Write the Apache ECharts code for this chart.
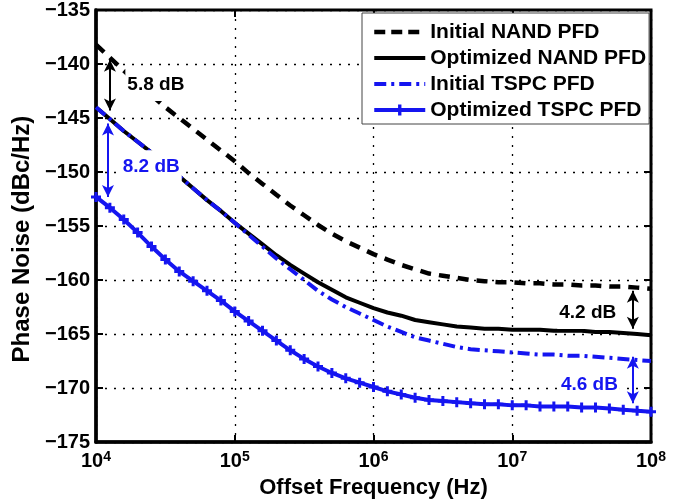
<!DOCTYPE html>
<html>
<head>
<meta charset="utf-8">
<script src="https://cdn.jsdelivr.net/npm/echarts@6/dist/echarts.min.js"></script>
<style>
  html, body {margin:0;padding:0;background:#fff;}
  #chart {width:690px;height:504px;}
</style>
</head>
<body>
<div id="chart"></div>
<script>
// offset frequencies, 10 points per decade (Hz)
var freqs = [
  1e4, 1.259e4, 1.585e4, 1.995e4, 2.512e4, 3.162e4, 3.981e4, 5.012e4, 6.310e4, 7.943e4,
  1e5, 1.259e5, 1.585e5, 1.995e5, 2.512e5, 3.162e5, 3.981e5, 5.012e5, 6.310e5, 7.943e5,
  1e6, 1.259e6, 1.585e6, 1.995e6, 2.512e6, 3.162e6, 3.981e6, 5.012e6, 6.310e6, 7.943e6,
  1e7, 1.259e7, 1.585e7, 1.995e7, 2.512e7, 3.162e7, 3.981e7, 5.012e7, 6.310e7, 7.943e7,
  1e8
];
var initNand = [
  -138.2, -139.4, -140.6, -141.8, -142.9, -144.0, -145.0, -146.0, -147.0, -148.0,
  -149.0, -150.1, -151.1, -152.1, -153.1, -154.0, -154.9, -155.7, -156.4, -157.0,
  -157.6, -158.1, -158.6, -159.0, -159.4, -159.6, -159.8, -160.0, -160.1, -160.2,
  -160.2, -160.3, -160.3, -160.4, -160.4, -160.5, -160.5, -160.6, -160.6, -160.7,
  -160.8
];
var optNand = [
  -144.0, -145.1, -146.2, -147.2, -148.2, -149.3, -150.4, -151.5, -152.6, -153.6,
  -154.7, -155.7, -156.7, -157.7, -158.6, -159.4, -160.2, -160.9, -161.6, -162.1,
  -162.6, -163.0, -163.3, -163.7, -163.9, -164.1, -164.3, -164.4, -164.5, -164.5,
  -164.6, -164.6, -164.6, -164.7, -164.7, -164.7, -164.8, -164.8, -164.9, -165.0,
  -165.1
];
var initTspc = [
  -144.0, -145.1, -146.2, -147.2, -148.2, -149.3, -150.4, -151.5, -152.6, -153.6,
  -154.7, -155.8, -156.9, -158.0, -159.0, -160.0, -161.0, -161.8, -162.5, -163.1,
  -163.7, -164.3, -164.8, -165.3, -165.6, -165.9, -166.2, -166.4, -166.5, -166.6,
  -166.7, -166.8, -166.9, -166.9, -167.0, -167.0, -167.1, -167.2, -167.3, -167.4,
  -167.5
];
var optTspc = [
  -152.3, -153.3, -154.4, -155.6, -156.9, -158.1, -159.2, -160.1, -161.0, -161.9,
  -162.9, -163.8, -164.7, -165.6, -166.5, -167.3, -168.0, -168.6, -169.1, -169.5,
  -169.9, -170.3, -170.6, -170.9, -171.1, -171.2, -171.3, -171.4, -171.5, -171.5,
  -171.6, -171.6, -171.7, -171.7, -171.7, -171.8, -171.8, -171.9, -172.0, -172.1,
  -172.2
];
var seriesNames = ['Initial NAND PFD', 'Optimized NAND PFD', 'Initial TSPC PFD', 'Optimized TSPC PFD'];

// dB annotations: [freq, value] for text, arrows as [freq, top, bottom]
var noteText = ['5.8 dB', '8.2 dB', '4.2 dB', '4.6 dB'];
var notePos = [[2.7e4, -141.9], [2.5e4, -149.5], [3.5e7, -163.0], [3.6e7, -169.7]];
var arrowFreq = [1.26e4, 1.22e4, 7.4e7, 7.4e7];
var arrowTop = [-139.6, -145.5, -161.0, -167.1];
var arrowBottom = [-144.3, -152.3, -164.5, -171.4];
var noteColor = ['#000', '#1515f0', '#000', '#1515f0'];

var BLUE = '#1515f0';
var FONT = 'Liberation Sans, Arial, sans-serif';
var PLUS = 'path://M3.5,0H6.5V3.5H10V6.5H6.5V10H3.5V6.5H0V3.5H3.5Z';

function pairs(ys){
  return freqs.map(function(f,i){ return [f, ys[i]]; });
}

var myChart = echarts.init(document.getElementById('chart'));

var markPts = noteText.map(function(t,i){
  return {
    name: t,
    coord: notePos[i],
    label: {color: noteColor[i]}
  };
});
var markLns = arrowFreq.map(function(f,i){
  return [
    {coord: [f, arrowTop[i]], lineStyle: {color: noteColor[i]}},
    {coord: [f, arrowBottom[i]], lineStyle: {color: noteColor[i]}}
  ];
});

// legend: plain line icons, markers only on the last one
var legendData = [
  {name: seriesNames[0], itemStyle: {opacity: 0}, lineStyle: {width: 4.5, type: [11, 6]}},
  {name: seriesNames[1], itemStyle: {opacity: 0}, lineStyle: {width: 4}},
  {name: seriesNames[2], itemStyle: {opacity: 0}, lineStyle: {width: 4, type: [12, 5, 3, 5]}},
  {name: seriesNames[3], lineStyle: {width: 4}}
];

var option = {
  animation: false,
  backgroundColor: '#fff',
  textStyle: {fontFamily: FONT},
  grid: {
    left: 96, right: 39, top: 8, bottom: 60,
    show: true, borderColor: '#000', borderWidth: 3, backgroundColor: 'transparent'
  },
  legend: {
    data: legendData,
    orient: 'vertical',
    left: 362, top: 13,
    padding: [8, 3, 3, 10],
    itemWidth: 51, itemHeight: 14, itemGap: 4,
    backgroundColor: '#fff',
    borderColor: '#444', borderWidth: 1,
    textStyle: {fontFamily: FONT, fontSize: 21, fontWeight: 'bold', color: '#000', lineHeight: 22}
  },
  xAxis: [{
    type: 'log', logBase: 10, min: 1e4, max: 1e8,
    name: 'Offset Frequency (Hz)',
    nameLocation: 'middle', nameGap: 34,
    nameTextStyle: {fontFamily: FONT, fontSize: 22, fontWeight: 'bold', color: '#000'},
    axisLine: {show: true, onZero: false, lineStyle: {color: '#000', width: 3.5}},
    axisTick: {show: true, inside: true, length: 7, lineStyle: {color: '#000', width: 2}},
    axisLabel: {
      margin: 8, color: '#000',
      formatter: function(v){ return '{b|10}{s|' + Math.round(Math.log10(v)) + '}'; },
      rich: {
        b: {fontFamily: FONT, fontSize: 20, fontWeight: 'bold', color: '#000', lineHeight: 22},
        s: {fontFamily: FONT, fontSize: 14, fontWeight: 'bold', color: '#000', verticalAlign: 'top', lineHeight: 22, padding: [0,0,8,0]}
      }
    },
    splitLine: {show: true, lineStyle: {color: '#000', width: 1.3, type: [2, 7]}}
  }, {
    type: 'log', logBase: 10, min: 1e4, max: 1e8, position: 'top',
    axisLine: {show: false},
    axisTick: {show: true, inside: true, length: 7, lineStyle: {color: '#000', width: 2}},
    axisLabel: {show: false},
    splitLine: {show: false}
  }],
  yAxis: [{
    type: 'value', min: -175, max: -135, interval: 5,
    name: 'Phase Noise (dBc/Hz)',
    nameLocation: 'middle', nameGap: 60, nameRotate: 90,
    nameTextStyle: {fontFamily: FONT, fontSize: 24, fontWeight: 'bold', color: '#000', padding: [0, 26, 0, 0]},
    axisLine: {show: true, onZero: false, lineStyle: {color: '#000', width: 3.5}},
    axisTick: {show: true, inside: true, length: 7, lineStyle: {color: '#000', width: 2}},
    axisLabel: {
      margin: 6, color: '#000', fontFamily: FONT, fontSize: 20, fontWeight: 'bold',
      formatter: function(v){ return String(v).replace('-', '\u2212'); }
    },
    splitLine: {show: true, lineStyle: {color: '#000', width: 1.3, type: [2, 7]}}
  }, {
    type: 'value', min: -175, max: -135, interval: 5, position: 'right',
    axisLine: {show: false},
    axisTick: {show: true, inside: true, length: 7, lineStyle: {color: '#000', width: 2}},
    axisLabel: {show: false},
    splitLine: {show: false}
  }],
  series: [
    {
      name: seriesNames[0], type: 'line', data: pairs(initNand),
      showSymbol: false, symbol: 'none', z: 3,
      lineStyle: {color: '#000', width: 4.5, type: [11, 8]},
      itemStyle: {color: '#000'}
    },
    {
      name: seriesNames[1], type: 'line', data: pairs(optNand),
      showSymbol: false, symbol: 'none', z: 3,
      lineStyle: {color: '#000', width: 4},
      itemStyle: {color: '#000'}
    },
    {
      name: seriesNames[2], type: 'line', data: pairs(initTspc),
      showSymbol: false, symbol: 'none', z: 4,
      lineStyle: {color: BLUE, width: 4, type: [12, 5, 3, 5]},
      itemStyle: {color: BLUE}
    },
    {
      name: seriesNames[3], type: 'line', data: pairs(optTspc),
      symbol: PLUS, symbolSize: 10, showAllSymbol: true, z: 5,
      lineStyle: {color: BLUE, width: 4},
      itemStyle: {color: BLUE}
    },
    {
      name: 'notes', type: 'line', data: [], z: 10,
      markLine: {
        silent: true, symbol: ['arrow', 'arrow'], symbolSize: [9, 12],
        label: {show: false},
        lineStyle: {width: 2, type: 'solid'},
        data: markLns
      },
      markPoint: {
        silent: true, symbol: 'circle', symbolSize: 1,
        itemStyle: {color: 'rgba(0,0,0,0)'},
        label: {
          show: true, position: 'inside', formatter: '{b}',
          fontFamily: FONT, fontSize: 19, fontWeight: 'bold',
          backgroundColor: '#fff', padding: [7, 2]
        },
        data: markPts
      }
    }
  ]
};
myChart.setOption(option);
</script>
</body>
</html>
